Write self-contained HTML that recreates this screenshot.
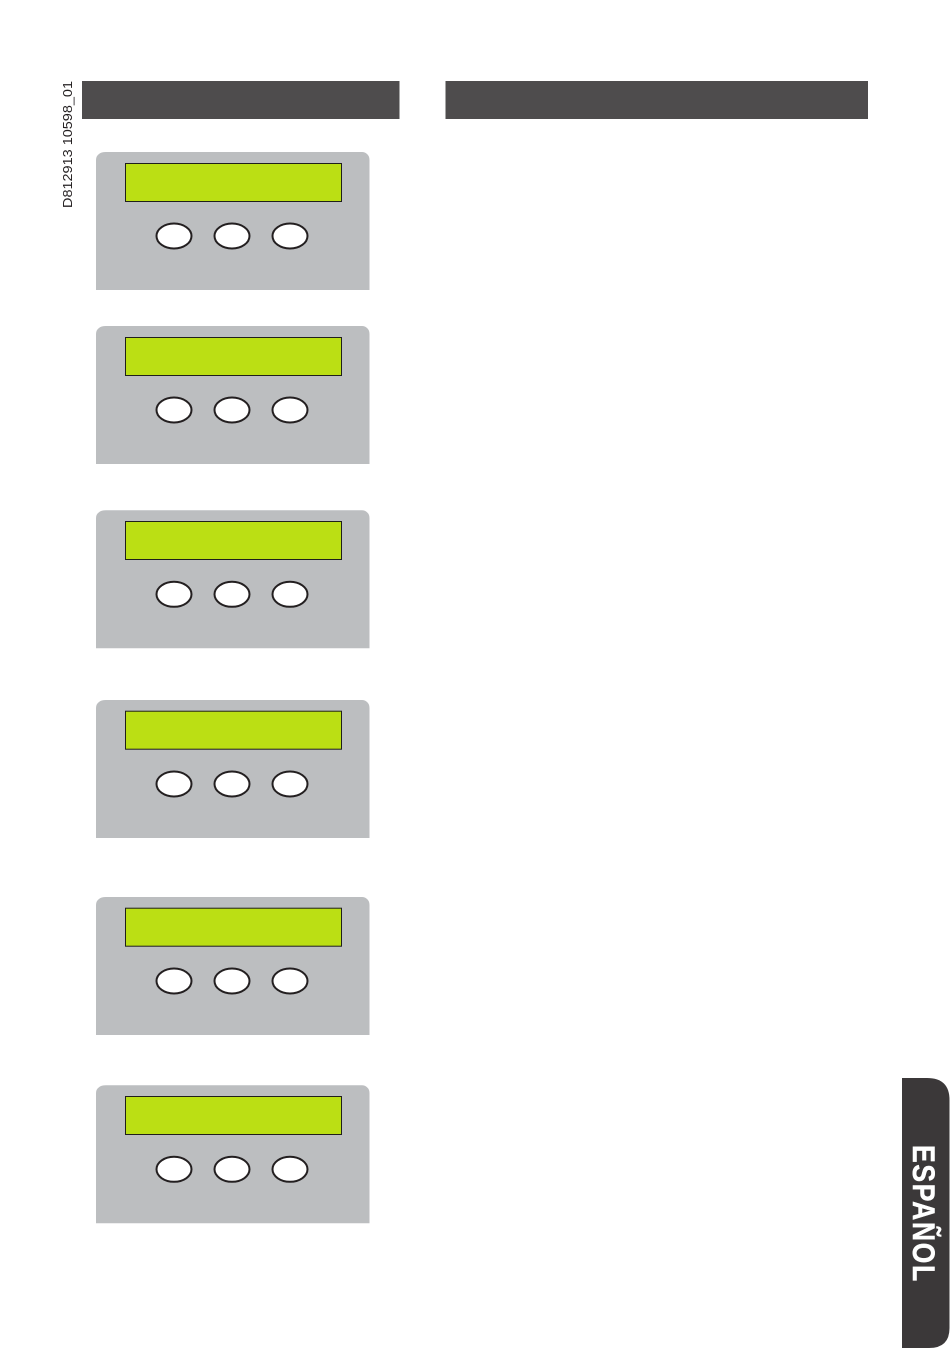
<!DOCTYPE html>
<html><head><meta charset="utf-8"><style>html,body{margin:0;padding:0;background:#fff}svg{display:block}</style></head>
<body>
<svg xmlns="http://www.w3.org/2000/svg" width="950" height="1348" viewBox="0 0 950 1348">
<defs>
<g id="p">
<path d="M96 290V160Q96 156 99 154Q101 152 106 152H362Q365 152 367 154Q369.5 156 369.5 160V290Z" fill="#bcbec0"/>
<ellipse cx="174" cy="236" rx="17.500" ry="12.500" fill="#fff" stroke="#231f20" stroke-width="2"/>
<ellipse cx="232" cy="236" rx="17.500" ry="12.500" fill="#fff" stroke="#231f20" stroke-width="2"/>
<ellipse cx="290" cy="236" rx="17.500" ry="12.500" fill="#fff" stroke="#231f20" stroke-width="2"/>
</g>
<rect id="l" x="125.500" y="163.500" width="216" height="38" fill="#bbdf14" stroke="#1f1f1a" stroke-width="1"/>
</defs>
<rect x="82" y="81" width="317.500" height="38" fill="#4e4c4d"/>
<rect x="445.500" y="81" width="422.500" height="38" fill="#4e4c4d"/>
<use href="#p"/><use href="#l"/>
<use href="#p" y="174"/><use href="#l" y="174"/>
<use href="#p" y="358.300"/><use href="#l" y="358"/>
<use href="#p" y="548"/><use href="#l" y="547.700"/>
<use href="#p" y="745"/><use href="#l" y="744.700"/>
<use href="#p" y="933.300"/><use href="#l" y="933"/>
<path d="M902 1078H927Q949.500 1078 949.500 1100V1328Q949.500 1348 929 1348H902Z" fill="#3b3839"/>
<text transform="translate(72 208) rotate(-90)" font-family="Liberation Sans, sans-serif" font-size="12.500" fill="#231f20" textLength="127" lengthAdjust="spacingAndGlyphs">D812913 10598_01</text>
<text transform="translate(913 1145) rotate(90) scale(0.84 1)" font-family="Liberation Sans, sans-serif" font-size="31.500" font-weight="700" fill="#fff" stroke="#fff" stroke-width="0.500" letter-spacing="2.050">ESPAÑOL</text>
</svg>
</body></html>
